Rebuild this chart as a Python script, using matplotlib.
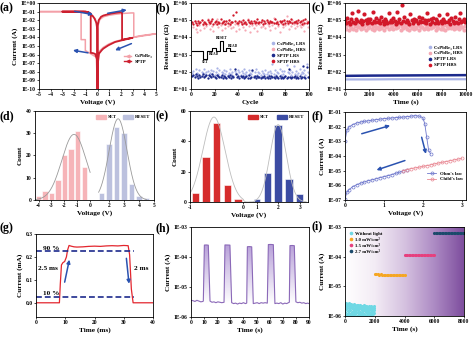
import numpy as np
import matplotlib
matplotlib.use('Agg')
import matplotlib.pyplot as plt
from matplotlib.colors import LinearSegmentedColormap
from matplotlib.lines import Line2D
from matplotlib.patches import Patch
from matplotlib.ticker import FuncFormatter, NullLocator

# ---------------- data ----------------
# (a) I-V sweeps
sptp_v = [0.0, 0.02, 0.1, 0.3, 0.5, 0.8, 1.2, 1.6, 2.0, 2.1, 2.1, 2.5, 3.0, 2.5, 2.0, 1.5, 0.93, 0.5, 0.36, 0.13,
          0.03, 0.0, -0.05, -0.2, -0.4, -0.58, -0.58, -0.8, -1.2, -2.0, -3.0, -2.0, -1.0, -0.8, -0.6, -0.4,
          -0.25, -0.1, -0.03, 0.0]
sptp_i = [1e-10, 2.4e-3, 1.0e-2, 2.5e-2, 3.5e-2, 4.5e-2, 6.0e-2, 7.2e-2, 8.3e-2, 8.5e-2, 5.5e-5, 6.8e-5, 9.0e-5,
          6.2e-5, 4.3e-5, 2.9e-5, 1.2e-5, 5.0e-6, 3.2e-6, 1.3e-6, 1.0e-7, 1e-10, 3e-7, 1.2e-6, 1.5e-6, 1.6e-6,
          6.0e-2, 9.0e-2, 1.0e-1, 1.0e-1, 1.0e-1, 1.0e-1, 1.0e-1, 8.0e-2, 5.0e-2, 3.0e-2, 1.5e-2, 5e-3, 1e-3, 1e-10]
cspb_v = [0.0, 0.03, 0.2, 0.5, 1.0, 1.5, 2.0, 2.5, 2.9, 3.1, 3.1, 3.5, 4.0, 4.5, 5.0, 4.5, 4.0, 3.5, 3.0, 2.5,
          2.0, 1.5, 1.0, 0.5, 0.2, 0.05, 0.0, -0.1, -0.38, -1.04, -1.04, -1.4, -1.4, -1.6, -3.0, -5.0, -3.0,
          -1.6, -1.2, -0.8, -0.5, -0.2, -0.05, 0.0]
cspb_i = [1e-10, 2e-3, 1.2e-2, 2.5e-2, 3.8e-2, 4.8e-2, 5.8e-2, 6.5e-2, 7.0e-2, 7.0e-2, 1.1e-4, 1.4e-4, 1.8e-4,
          2.2e-4, 2.7e-4, 2.0e-4, 1.6e-4, 1.25e-4, 9.5e-5, 7.0e-5, 5.0e-5, 3.3e-5, 1.8e-5, 7e-6, 2.8e-6, 9e-7,
          1e-10, 5e-7, 8.5e-7, 3e-6, 5.5e-5, 5.5e-5, 8e-2, 1e-1, 1e-1, 1e-1, 1e-1, 1e-1, 9e-2, 7e-2, 4e-2,
          1.5e-2, 3e-3, 1e-10]

# (b) endurance, 100 cycles
cycles = list(range(1, 101))
sptp_hrs_b = [7.5, 6.2, 8.8, 7.0, 5.6, 9.5, 6.8, 7.9, 10.5, 6.0, 8.3, 7.1, 5.9, 9.8, 7.4, 6.6, 8.9, 11.2, 6.3, 7.7,
              9.1, 5.8, 8.0, 7.2, 12.0, 6.9, 7.6, 8.5, 6.1, 9.3, 7.0, 10.8, 6.4, 8.2, 7.5, 20.0, 9.0, 32.0, 7.3, 6.7,
              8.6, 7.9, 6.2, 9.7, 7.1, 8.4, 5.7, 10.1, 7.6, 6.8, 8.8, 7.2, 9.4, 6.5, 7.9, 11.5, 6.9, 8.1, 7.4, 9.9,
              6.3, 8.7, 7.0, 10.4, 7.8, 6.6, 9.2, 7.5, 8.3, 6.9, 12.5, 7.2, 8.0, 6.4, 9.6, 7.7, 8.5, 6.1, 10.2, 7.3,
              8.9, 6.8, 9.5, 7.6, 11.0, 6.5, 8.2, 7.9, 9.0, 6.7, 10.6, 7.4, 8.6, 6.2, 9.8, 7.1, 11.8, 6.9, 8.4, 7.6]
cspb_hrs_b = [6.5, 4.2, 9.0, 3.1, 2.2, 7.2, 5.0, 2.6, 10.0, 5.6, 3.6, 7.8, 4.5, 11.5, 6.4, 3.0, 8.6, 4.9, 2.3, 6.9,
              5.7, 12.5, 3.8, 8.0, 5.3, 2.7, 9.2, 6.0, 3.3, 7.0, 4.6, 10.2, 5.5, 3.5, 8.4, 4.3, 6.4, 2.5, 7.4, 5.1,
              3.2, 9.4, 5.9, 4.1, 7.7, 2.8, 6.7, 11.8, 4.8, 2.1, 7.3, 5.6, 3.7, 8.8, 5.2, 2.4, 7.8, 6.3, 4.0, 9.9,
              4.9, 6.9, 3.4, 9.5, 5.8, 4.4, 2.6, 7.6, 5.5, 13.0, 3.6, 6.6, 8.5, 4.5, 2.2, 7.0, 6.2, 3.9, 9.2, 5.4,
              18.0, 5.9, 3.0, 8.1, 4.9, 10.7, 6.3, 3.5, 7.1, 4.7, 8.2, 5.6, 4.0, 7.7, 5.1, 2.4, 6.7, 8.9, 4.1, 7.3]
sptp_lrs_b = [55, 62, 48, 70, 58, 45, 66, 52, 60, 75, 50, 57, 68, 46, 63, 54, 49, 72, 58, 51,
              44, 61, 56, 47, 53, 65, 42, 59, 50, 46, 55, 48, 62, 44, 57, 52, 140, 70, 49, 60,
              45, 54, 47, 58, 43, 51, 56, 46, 61, 44, 50, 120, 48, 55, 42, 59, 47, 53, 45, 52,
              49, 57, 43, 50, 46, 54, 41, 58, 47, 52, 44, 55, 48, 42, 60, 46, 51, 43, 49, 56,
              45, 53, 150, 47, 44, 52, 48, 57, 43, 50, 46, 55, 42, 49, 230, 51, 45, 180, 47, 53]
cspb_lrs_b = [80, 110, 65, 140, 90, 72, 125, 60, 100, 85, 150, 70, 95, 115, 62, 88, 130, 75, 105, 68,
              92, 160, 78, 120, 58, 97, 83, 135, 70, 110, 64, 90, 145, 76, 102, 60, 118, 87, 73, 128,
              95, 66, 108, 82, 155, 71, 99, 63, 122, 86, 74, 112, 58, 94, 138, 68, 104, 80, 61, 116,
              90, 70, 132, 77, 98, 65, 110, 84, 300, 72, 126, 62, 96, 88, 142, 69, 107, 75, 118, 60,
              250, 93, 81, 134, 66, 103, 220, 79, 114, 64, 91, 148, 71, 100, 86, 124, 63, 270, 97, 82]
wave_t = [0, 11.6, 11.6, 15.6, 15.6, 20, 20, 24.3, 24.3, 28.3, 28.3, 31.6, 31.6, 34, 34, 38, 38, 43]
wave_v = [0, 0, -8.6, -8.6, 0, 0, 2.4, 2.4, 0, 0, 10, 10, 0, 0, 2.4, 2.4, 0, 0]

# (c) retention
ret_time = np.arange(0, 10000, 100)
sptp_hrs_c = [9.5, 7.0, 14.0, 8.2, 6.4, 11.0, 28.0, 7.8, 7.2, 12.5, 9.0, 35.0, 7.5, 10.5, 6.2, 8.6, 22.0, 10.0, 7.0, 11.8,
              8.0, 11.2, 6.6, 30.0, 9.4, 7.4, 13.5, 8.2, 10.2, 6.8, 15.5, 8.8, 6.3, 11.5, 9.6, 7.2, 25.0, 8.0, 10.8, 7.7,
              12.8, 9.0, 6.4, 32.0, 8.4, 11.4, 6.9, 75.0, 9.3, 14.8, 7.5, 10.6, 7.8, 6.1, 24.0, 9.9, 7.0, 12.0, 8.5, 10.4,
              6.5, 16.0, 9.2, 7.7, 13.0, 8.3, 10.9, 6.7, 27.0, 9.8, 6.2, 11.8, 8.0, 14.2, 7.3, 11.1, 9.0, 6.6, 21.0, 8.8,
              7.1, 12.5, 9.5, 7.6, 23.0, 7.9, 10.5, 6.3, 13.6, 9.1, 7.2, 15.8, 8.4, 6.5, 11.0, 26.0, 7.8, 9.4, 11.6, 8.1]
cspb_hrs_c = [4.2, 3.1, 5.5, 2.8, 4.8, 3.6, 6.0, 3.0, 4.5, 2.6, 5.2, 3.8, 4.0, 2.9, 5.8, 3.3, 4.6, 2.7, 5.0, 3.5,
              4.3, 6.2, 3.2, 4.9, 2.8, 5.4, 3.7, 4.1, 3.0, 5.6, 3.4, 4.7, 2.6, 5.1, 3.9, 4.4, 3.1, 6.4, 3.6, 4.8,
              2.9, 5.3, 3.3, 4.2, 3.8, 5.7, 2.7, 4.5, 3.5, 5.0, 4.0, 3.2, 5.9, 2.8, 4.6, 3.7, 5.2, 3.0, 4.3, 3.4,
              5.5, 2.6, 4.9, 3.9, 4.1, 3.1, 6.1, 3.6, 4.4, 2.9, 5.3, 3.3, 4.7, 3.8, 5.0, 2.7, 4.2, 3.5, 5.8, 3.0,
              4.5, 3.2, 5.1, 2.8, 4.8, 3.7, 4.0, 5.6, 3.4, 4.3, 2.9, 5.4, 3.6, 4.6, 3.1, 5.2, 3.9, 4.1, 2.7, 4.9]
lrs_time = [0, 2000, 4000, 6000, 8000, 10000]
sptp_lrs_c = [58, 60, 61, 62, 63, 64]
cspb_lrs_c = [36, 36, 37, 37, 37, 37]

# (d) histogram, CsPbBr3 device
d_set_v = [-4.0, -3.5, -3.0, -2.5, -2.0, -1.5, -1.0, -0.45]
d_set_n = [2, 4, 3, 9, 20, 23, 31, 15]
d_reset_v = [1.5, 2.0, 2.5, 3.0, 3.5, 4.0, 4.5]
d_reset_n = [3, 25, 33, 30, 7, 2, 1]
d_set_fit = (29.5, -1.25, 0.95)      # amplitude, centre, sigma
d_reset_fit = (36.5, 2.6, 0.6)

# (e) histogram, SPTP device
e_set_v = [-0.9, -0.7, -0.5, -0.3, -0.1]
e_set_n = [6, 30, 52, 11, 2]
e_reset_v = [1.0, 1.5, 2.0, 2.5, 3.0]
e_reset_n = [2, 19, 51, 15, 5]
e_set_fit = (56, -0.55, 0.21)
e_reset_fit = (51, 2.0, 0.38)

# (f) conduction fits
ohm_up_v = [0.0, 0.05, 0.1, 0.2, 0.3, 0.4, 0.5, 0.6, 0.7, 0.8, 0.9, 1.0, 1.1, 1.2, 1.3, 1.4, 1.5, 1.6, 1.7, 1.8,
            1.9, 2.0, 2.05, 2.1, 2.15, 2.2]
ohm_up_i = [1.1e-3, 5.5e-3, 9.4e-3, 1.4e-2, 1.77e-2, 2.06e-2, 2.3e-2, 2.5e-2, 2.75e-2, 3.0e-2, 3.25e-2, 3.5e-2,
            3.7e-2, 3.9e-2, 4.1e-2, 4.3e-2, 4.5e-2, 4.8e-2, 5.2e-2, 5.6e-2, 5.3e-2, 4.1e-2, 1.6e-2, 1.9e-3,
            2.4e-4, 1.4e-4]
ohm_low_v = [0.0, 0.05, 0.1, 0.2, 0.3, 0.4, 0.5, 0.6, 0.7, 0.8, 0.9, 1.0, 1.1, 1.2, 1.3, 1.4, 1.5, 1.6]
ohm_low_i = [1.2e-7, 3.4e-7, 5e-7, 8.2e-7, 1.1e-6, 1.4e-6, 1.7e-6, 2.1e-6, 2.4e-6, 2.8e-6, 3.4e-6, 3.9e-6,
             4.6e-6, 5.4e-6, 6.6e-6, 7.7e-6, 1.0e-5, 1.2e-5]
child_v = [1.5, 1.6, 1.7, 1.8, 1.9, 2.0, 2.1, 2.2, 2.3, 2.4, 2.5, 2.6, 2.7, 2.8, 2.9, 3.0]
child_i = [1.0e-5, 1.2e-5, 1.4e-5, 1.55e-5, 1.7e-5, 1.95e-5, 2.2e-5, 2.5e-5, 2.9e-5, 3.3e-5, 3.7e-5, 4.2e-5,
           4.8e-5, 5.4e-5, 6.1e-5, 7.0e-5]

# (g) response time
g_time = [0, 8.0, 8.3, 8.7, 9.2, 9.8, 10.4, 10.8, 11.3, 12, 13, 14, 16, 18, 20, 22, 24, 26, 28, 30, 31.5,
          32.0, 32.6, 33.2, 40]
g_current = [0, 0, 0.08, 0.165, 0.175, 0.18, 0.2, 0.23, 0.25, 0.247, 0.244, 0.243, 0.244, 0.246, 0.247, 0.246,
             0.248, 0.249, 0.248, 0.25, 0.249, 0.21, 0.06, 0.0, 0.0]
g_level90 = 0.224
g_level10 = 0.025

# (h) light on/off cycles
h_time = [0, 1.5, 3, 4.5, 6, 7.5, 9, 9.4, 10.2, 11.7, 13.2, 14.5, 16, 17.5, 19, 20.5, 22, 23.5, 25.2, 25.9, 27.8,
          29.7, 31, 32.5, 34, 35.5, 37, 38.5, 40, 41.5, 42.5, 43, 44.6, 46.3, 47.5, 49, 50.5, 52, 53.5, 55, 56.5,
          58.2, 59, 60.9, 62.8, 64, 65.5, 67, 68.5, 70, 71.5, 73, 74.3, 75, 75.5, 77.2, 78.8, 80, 81.5, 83, 84.5,
          86, 87.5, 89, 90]
h_current = [3.6, 3.5, 3.3, 3.6, 3.4, 3.2, 3.3, 3.4, 250, 252, 248, 3.4, 3.1, 3.2, 3.0, 3.2, 3.1, 3.0, 3.1, 252,
             251, 249, 3.0, 2.8, 2.9, 2.7, 2.9, 2.8, 3.0, 2.8, 2.9, 220, 222, 218, 2.8, 2.9, 3.0, 2.8, 3.0, 2.9,
             3.0, 2.9, 260, 262, 258, 2.8, 2.9, 2.8, 3.0, 2.7, 2.9, 2.8, 3.0, 3.1, 240, 242, 238, 3.2, 3.0, 3.1,
             2.9, 3.0, 2.8, 2.9, 2.8]   # x 1e-6 A

# (i) different light intensities
dark_time = np.arange(0, 2000, 20)
dark_i = [2.6, 1.4, 2.1, 1.1, 2.8, 1.7, 1.2, 2.4, 1.9, 1.0, 2.5, 1.5, 2.2, 1.3, 2.7, 1.8, 1.1, 2.3, 1.6, 2.0,
          1.2, 2.6, 1.4, 1.9, 1.0, 2.4, 1.7, 2.1, 1.3, 2.5, 1.5, 1.1, 2.2, 1.8, 2.4, 1.2, 1.6, 2.0, 1.4, 2.3,
          1.0, 1.9, 2.2, 1.3, 1.7, 2.4, 1.1, 1.5, 2.0, 1.8, 1.2, 2.3, 1.4, 1.9, 1.0, 2.1, 1.6, 1.3, 2.2, 1.7,
          1.1, 2.0, 1.5, 1.8, 2.3, 1.2, 1.6, 1.9, 1.0, 2.1, 1.4, 1.7, 2.2, 1.3, 1.9, 1.1, 1.6, 2.0, 1.5, 1.8,
          1.2, 2.1, 1.4, 1.7, 1.0, 1.9, 1.6, 2.2, 1.3, 1.8, 1.1, 1.5, 2.0, 1.4, 1.7, 1.2, 1.9, 1.6, 2.1, 1.3]  # x 1e-6
p1_time = np.arange(2000, 4001, 100)
p1_i = [2.6, 2.55, 2.6, 2.5, 2.55, 2.5, 2.45, 2.5, 2.45, 2.5, 2.4, 2.45, 2.4, 2.45, 2.4, 2.38, 2.42, 2.4, 2.35,
        2.4, 2.38]  # x 1e-5
p2_time = np.arange(4000, 6001, 100)
p2_i = [1.15, 1.16, 1.14, 1.15, 1.17, 1.15, 1.16, 1.14, 1.15, 1.16, 1.15, 1.14, 1.16, 1.15, 1.17, 1.15, 1.16,
        1.15, 1.14, 1.16, 1.15]  # x 1e-4
p3_time = np.arange(6000, 8001, 100)
p3_i = [6.3, 6.4, 6.3, 6.35, 6.4, 6.3, 6.4, 6.35, 6.3, 6.4, 6.45, 6.4, 6.35, 6.4, 6.45, 6.4, 6.5, 6.45, 6.4,
        6.5, 6.45]  # x 1e-4
intensity_labels = ['Without light', '1.0 mW/cm²', '1.5 mW/cm²', '2.7 mW/cm²']

# ---------------- style ----------------
plt.rcParams['font.family'] = ['Liberation Serif', 'DejaVu Serif']
plt.rcParams['font.weight'] = 'bold'
plt.rcParams['axes.labelweight'] = 'bold'
plt.rcParams['axes.linewidth'] = 0.6

TICK = 4.0
LAB = 5.2
LEG = 3.4
PINK = '#f3a0a8'
DRED = '#cc1f2f'
NAVY = '#1c2a8c'
LAV = '#a9b3e6'
ARROW = '#2a52b0'

fig = plt.figure(figsize=(4.74, 3.37), dpi=100)
W, H = 474.0, 337.0


def add_ax(l, t, r, b):
    return fig.add_axes([l / W, 1 - b / H, (r - l) / W, (b - t) / H])


def style(ax):
    ax.tick_params(direction='out', length=1.5, width=0.5, pad=1, labelsize=TICK)
    ax.yaxis.set_minor_locator(NullLocator())
    ax.xaxis.set_minor_locator(NullLocator())


sci = FuncFormatter(lambda v, p: '1E%+03d' % int(round(np.log10(v))))


def logy(ax, lo, hi):
    ax.set_yscale('log')
    ax.set_ylim(10.0 ** lo, 10.0 ** hi)
    ax.set_yticks(10.0 ** np.arange(lo, hi + 1))
    ax.yaxis.set_major_formatter(sci)
    ax.yaxis.set_minor_locator(NullLocator())


def arrow(ax, x0, y0, x1, y1):
    ax.annotate('', xy=(x1, y1), xytext=(x0, y0),
                arrowprops=dict(arrowstyle='-|>', color=ARROW, lw=1.1, mutation_scale=5,
                                shrinkA=0, shrinkB=0))


def panel(x, y, s):
    fig.text(x / W, 1 - y / H, s, fontsize=8.5, va='top', ha='left')


# ---------------- (a) ----------------
ax = add_ax(39, 3, 156, 89)
ax.plot(cspb_v, cspb_i, color=PINK, lw=1.1)
ax.plot(sptp_v, sptp_i, color=DRED, lw=1.3)
logy(ax, -10, 0)
ax.set_xlim(-5, 5)
ax.set_xticks(range(-5, 6))
style(ax)
arrow(ax, -1.95, 1.08e-1, -0.38, 4.5e-2)
arrow(ax, 0.87, 6.4e-2, 2.5, 1.57e-1)
arrow(ax, 2.9, 1.9e-5, 1.5, 3.2e-6)
arrow(ax, -0.81, 1.6e-6, -2.1, 3.2e-6)
ax.legend([Line2D([], [], color=PINK, lw=1.0, marker='<', ms=2),
           Line2D([], [], color=DRED, lw=1.0, marker='<', ms=2)],
          ['CsPbBr₃', 'SPTP'], loc='center right', bbox_to_anchor=(1.0, 0.35),
          fontsize=LEG, frameon=False, handlelength=1.6, labelspacing=0.3, borderpad=0.2)
ax.set_xlabel('Voltage (V)', fontsize=LAB, labelpad=1.5)
ax.set_ylabel('Current (A)', fontsize=LAB, labelpad=1.5)
panel(0, 2, '(a)')

# ---------------- (b) ----------------
ax = add_ax(191, 3, 309, 89)
ax.scatter(cycles, np.array(cspb_lrs_b), s=2.6, color=LAV, lw=0)
ax.scatter(cycles, np.array(cspb_hrs_b) * 1e4, s=2.6, color='#f5a9b4', lw=0)
ax.scatter(cycles, np.array(sptp_lrs_b), s=2.8, color=NAVY, lw=0)
ax.scatter(cycles, np.array(sptp_hrs_b) * 1e4, s=2.8, color='#d2182a', lw=0)
logy(ax, 1, 6)
ax.set_xlim(0, 100)
ax.set_xticks([0, 20, 40, 60, 80, 100])
style(ax)
mk = dict(marker='o', ls='', ms=1.6)
ax.legend([Line2D([], [], color=LAV, **mk), Line2D([], [], color='#f5a9b4', **mk),
           Line2D([], [], color=NAVY, **mk), Line2D([], [], color='#d2182a', **mk)],
          ['CsPbBr₃ LRS', 'CsPbBr₃ HRS', 'SPTP LRS', 'SPTP HRS'], loc='center right',
          bbox_to_anchor=(1.0, 0.42), fontsize=LEG, frameon=False, handlelength=0.8,
          labelspacing=0.35, handletextpad=0.4, borderpad=0.2)
ax.set_xlabel('Cycle', fontsize=LAB, labelpad=1.5)
ax.set_ylabel('Resistance (Ω)', fontsize=LAB, labelpad=1.5)
panel(155, 2, '(b)')
wax = add_ax(191.7, 36.7, 239.7, 63.7)
wax.plot(wave_t, wave_v, color='black', lw=0.8)
wax.set_xlim(0, 48)
wax.set_ylim(-13, 14)
wax.axis('off')
wax.text(13.6, -9.5, 'SET', fontsize=2.6, ha='center', va='top')
wax.text(22.2, -1.0, 'READ', fontsize=2.6, ha='center', va='top')
wax.text(30.0, 10.8, 'RESET', fontsize=2.6, ha='center', va='bottom')
wax.text(36.5, 3.2, 'READ', fontsize=2.6, ha='left', va='bottom')

# ---------------- (c) ----------------
ax = add_ax(345, 3, 466, 89)
ax.scatter(ret_time, np.array(cspb_hrs_c) * 1e4, s=9, color='#f5a9b4', lw=0)
ax.scatter(ret_time, np.array(sptp_hrs_c) * 1e4, s=9, color='#d2182a', lw=0)
ax.plot(lrs_time, cspb_lrs_c, color=LAV, lw=1.6)
ax.plot(lrs_time, sptp_lrs_c, color=NAVY, lw=1.8)
logy(ax, 1, 6)
ax.set_xlim(0, 10000)
ax.set_xticks([0, 2000, 4000, 6000, 8000, 10000])
style(ax)
ax.legend([Line2D([], [], color=LAV, **mk), Line2D([], [], color='#f5a9b4', **mk),
           Line2D([], [], color=NAVY, **mk), Line2D([], [], color='#d2182a', **mk)],
          ['CsPbBr₃ LRS', 'CsPbBr₃ HRS', 'SPTP LRS', 'SPTP HRS'], loc='center right',
          bbox_to_anchor=(1.0, 0.38), fontsize=LEG, frameon=False, handlelength=0.8,
          labelspacing=0.35, handletextpad=0.4, borderpad=0.2)
ax.set_xlabel('Time (s)', fontsize=LAB, labelpad=1.5)
ax.set_ylabel('Resistance (Ω)', fontsize=LAB, labelpad=1.5)
panel(311, 2, '(c)')


# ---------------- (d) ----------------
def d_fwd(x):
    x = np.asarray(x, float)
    return np.where(x <= 0, x * 38.75, np.where(x <= 1, x * 12, 12 + (x - 1) * 45)) / 45


def d_inv(y):
    y = np.asarray(y, float) * 45
    return np.where(y <= 0, y / 38.75, np.where(y <= 12, y / 12, 1 + (y - 12) / 45))


def gauss(x, p):
    return p[0] * np.exp(-(x - p[1]) ** 2 / (2 * p[2] ** 2))


ax = add_ax(35, 111, 154, 200)
ax.set_xscale('function', functions=(d_fwd, d_inv))
ax.bar(d_set_v, d_set_n, width=0.42, color='#f6b4b8', edgecolor='white', lw=0.4)
ax.bar(d_reset_v, d_reset_n, width=0.38, color='#bcc1de', edgecolor='white', lw=0.4)
xs = np.linspace(-4.3, 0.0, 200)
ax.plot(xs, gauss(xs, d_set_fit), color='#9a9a9a', lw=0.6)
xs = np.linspace(1.3, 4.5, 200)
ax.plot(xs, gauss(xs, d_reset_fit), color='#9a9a9a', lw=0.6)
ax.set_xlim(-4.28, 5.0)
ax.set_ylim(0, 40)
ax.set_xticks([-4, -3, -2, -1, 0, 2, 3, 4, 5])
ax.set_xticklabels(['-4', '-3', '-2', '-1', '0', '2', '3', '4', '5'])
ax.set_yticks([0, 10, 20, 30, 40])
style(ax)
ax.legend([Patch(color='#f6b4b8'), Patch(color='#bcc1de')], ['SET', 'RESET'], loc='upper right',
          ncol=2, fontsize=LEG, frameon=False, handlelength=2.2, handleheight=0.9,
          columnspacing=1.2, handletextpad=0.4, borderpad=0.3)
ax.set_xlabel('Voltage (V)', fontsize=LAB, labelpad=1.5)
ax.set_ylabel('Count', fontsize=LAB, labelpad=2)
panel(0, 110, '(d)')


# ---------------- (e) ----------------
def e_fwd(x):
    x = np.asarray(x, float)
    return np.where(x <= 0, x * 160, np.where(x <= 1, x * 40, 40 + (x - 1) * 65)) / 65


def e_inv(y):
    y = np.asarray(y, float) * 65
    return np.where(y <= 0, y / 160, np.where(y <= 40, y / 40, 1 + (y - 40) / 65))


ax = add_ax(190, 111, 308, 202)
ax.set_xscale('function', functions=(e_fwd, e_inv))
ax.bar(e_set_v, e_set_n, width=0.14, color='#d62c2c', edgecolor='white', lw=0.4)
ax.bar(e_reset_v, e_reset_n, width=0.34, color='#3c4ca3', edgecolor='white', lw=0.4)
xs = np.linspace(-1.0, 0.5, 300)
ax.plot(xs, gauss(xs, e_set_fit), color='#bdbdbd', lw=0.6)
xs = np.linspace(0.5, 3.3, 300)
ax.plot(xs, gauss(xs, e_reset_fit), color='#bdbdbd', lw=0.6)
ax.set_xlim(-1.0, 3.38)
ax.set_ylim(0, 60)
ax.set_xticks([-1, 0, 1, 2, 3])
ax.set_xticklabels(['-1', '0', '1', '2', '3'])
ax.set_yticks([0, 20, 40, 60])
style(ax)
ax.legend([Patch(color='#d62c2c'), Patch(color='#3c4ca3')], ['SET', 'RESET'], loc='upper right',
          ncol=2, fontsize=LEG, frameon=False, handlelength=2.2, handleheight=0.9,
          columnspacing=1.6, handletextpad=0.4, borderpad=0.3)
ax.set_xlabel('Voltage (V)', fontsize=LAB, labelpad=1.5)
ax.set_ylabel('Count', fontsize=LAB, labelpad=2)
panel(155, 110, '(e)')

# ---------------- (f) ----------------
ax = add_ax(345, 112, 466, 200)
BLUE = '#6f78cc'
PK = '#e98a95'
cm = dict(marker='o', ms=2.2, mfc='none', mew=0.5, lw=0.6)
ax.plot(ohm_up_v, ohm_up_i, color=BLUE, **cm)
ax.plot(ohm_low_v, ohm_low_i, color=BLUE, **cm)
ax.plot(child_v, child_i, color=PK, **cm)
logy(ax, -7, -1)
ax.set_xlim(0, 3.11)
ax.set_xticks([0, 1, 2, 3])
style(ax)
arrow(ax, 0.43, 3.3e-3, 1.16, 1.2e-2)
arrow(ax, 1.97, 1.9e-3, 2.08, 1.4e-4)
arrow(ax, 1.54, 4.9e-5, 0.81, 1.1e-5)
ax.legend([Line2D([], [], color=BLUE, **cm), Line2D([], [], color=PK, **cm)],
          ["Ohm's law", "Child's law"], loc='center right', bbox_to_anchor=(1.0, 0.27),
          fontsize=LEG, frameon=False, handlelength=1.8, labelspacing=0.3, borderpad=0.2)
ax.set_xlabel('Voltage (V)', fontsize=LAB, labelpad=1.5)
ax.set_ylabel('Current (A)', fontsize=LAB, labelpad=1.5)
panel(311, 110, '(f)')

# ---------------- (g) ----------------
ax = add_ax(36, 234, 153, 317)
ax.plot(g_time, g_current, color='#e3262e', lw=0.9)
ax.plot([0, 33.5], [g_level90, g_level90], color=NAVY, lw=1.2, dashes=(3.5, 1.8))
ax.plot([0, 33.5], [g_level10, g_level10], color=NAVY, lw=1.2, dashes=(3.5, 1.8))
ax.set_xlim(0, 40)
ax.set_ylim(-0.062, 0.3)
ax.set_xticks([0, 10, 20, 30, 40])
ax.set_yticks([0.0, 0.1, 0.2, 0.3])
ax.yaxis.set_major_formatter(FuncFormatter(lambda v, p: '%.1f' % v))
style(ax)
ax.text(2.3, 0.232, '90 %', fontsize=5.2)
ax.text(0.6, 0.148, '2.5 ms', fontsize=5.2, va='center')
ax.text(2.3, 0.035, '10 %', fontsize=5.2)
ax.text(33.6, 0.148, '2 ms', fontsize=5.2, va='center')
arrow(ax, 9.8, 0.09, 11.4, 0.188)
arrow(ax, 30.9, 0.194, 31.8, 0.083)
ax.set_xlabel('Time (ms)', fontsize=LAB, labelpad=1.5)
ax.set_ylabel('Current (mA)', fontsize=LAB, labelpad=2)
panel(0, 222, '(g)')

# ---------------- (h) ----------------
ax = add_ax(191, 227, 309, 317)
hI = np.array(h_current) * 1e-6
poly = ax.fill_between(h_time, hI, 3.0e-6, facecolor='none', lw=0)
grad = np.clip((np.linspace(0, 1, 256) - 0.15) / 0.7, 0, 1)[::-1].reshape(-1, 1)
hcm = LinearSegmentedColormap.from_list('h', ['#ffffff', '#b39ad6'])
im = ax.imshow(grad, cmap=hcm, extent=(0, 1, 0, 1), transform=ax.transAxes, aspect='auto', zorder=1)
im.set_clip_path(poly.get_paths()[0], transform=ax.transData)
ax.plot(h_time, hI, color='#8b69b8', lw=0.8, zorder=2)
logy(ax, -6, -3)
ax.set_xlim(0, 90)
ax.set_xticks(range(0, 91, 10))
style(ax)
ax.set_xlabel('Time (s)', fontsize=LAB, labelpad=1.5)
ax.set_ylabel('Current (A)', fontsize=LAB, labelpad=1.5)
panel(155, 222, '(h)')

# ---------------- (i) ----------------
ax = add_ax(345, 227, 464, 316)
bg = LinearSegmentedColormap.from_list('bg', [(0, '#ffffff'), (0.25, '#f3ecf5'), (0.5, '#d6c2e0'),
                                               (0.75, '#ad8bc4'), (1.0, '#7e4e9e')])
ax.imshow(np.linspace(0, 1, 256).reshape(1, -1), cmap=bg, extent=(0, 1, 0, 1),
          transform=ax.transAxes, aspect='auto', zorder=0)
cols = ['#6fd8e4', '#f5a623', '#e6407e', '#1b4a6b']
ax.scatter(dark_time, np.array(dark_i) * 1e-6, s=5, color=cols[0], lw=0, zorder=2)
ax.scatter(p1_time, np.array(p1_i) * 1e-5, s=5, color=cols[1], lw=0, zorder=2)
ax.scatter(p2_time, np.array(p2_i) * 1e-4, s=5, color=cols[2], lw=0, zorder=2)
ax.scatter(p3_time, np.array(p3_i) * 1e-4, s=5, color=cols[3], lw=0, zorder=2)
ax.set_xlim(0, 8000)
logy(ax, -6, -3)
ax.set_xticks([0, 2000, 4000, 6000, 8000])
style(ax)
ax.legend([Line2D([], [], color=c, marker='o', ls='', ms=1.6) for c in cols], intensity_labels,
          loc='upper left', bbox_to_anchor=(0.0, 0.99), fontsize=LEG, frameon=False, handlelength=0.8,
          labelspacing=0.35, handletextpad=0.5, borderpad=0.3)
ax.set_xlabel('Time (s)', fontsize=LAB, labelpad=1.5)
ax.set_ylabel('Current (A)', fontsize=LAB, labelpad=1.5)
panel(311, 220, '(i)')

fig.savefig('out.png', dpi=100)
